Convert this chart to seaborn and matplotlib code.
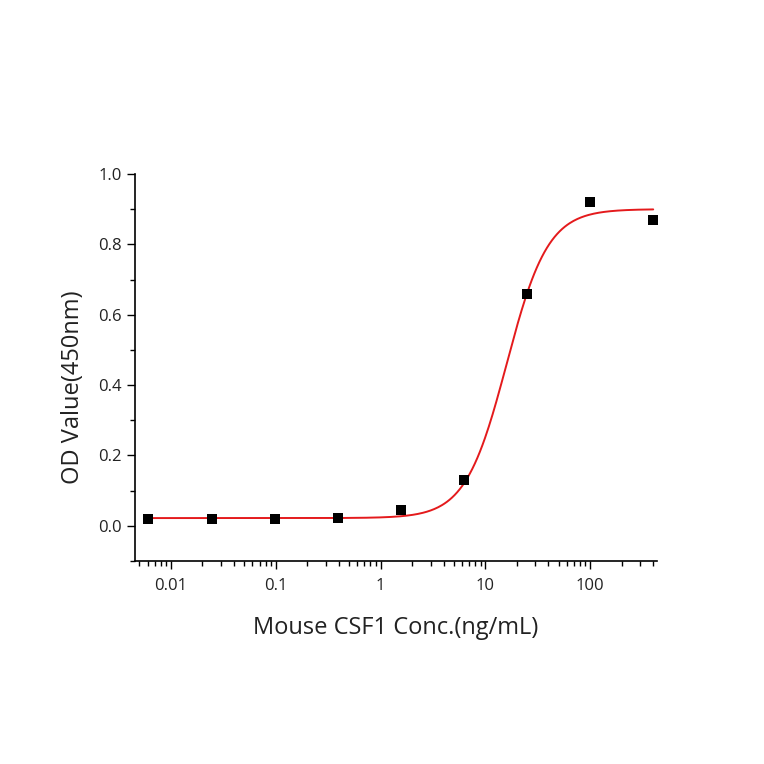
import numpy as np
import pandas as pd
import matplotlib
matplotlib.use("Agg")
import matplotlib.pyplot as plt
import matplotlib.ticker as mticker
import seaborn as sns

# Measured points (ng/mL vs OD450)
conc = [0.0061, 0.0244, 0.0977, 0.39, 1.5625, 6.25, 25, 100, 400]
od = [0.020, 0.018, 0.018, 0.022, 0.044, 0.130, 0.660, 0.920, 0.870]

# 4PL fit parameters
fit_bottom = 0.022
fit_top = 0.900
fit_ec50 = 16.0
fit_hill = 2.2

sns.set_theme(style="ticks")
plt.rcParams['font.family'] = ['Open Sans', 'DejaVu Sans']

df = pd.DataFrame({'conc': conc, 'od': od})
xs = np.logspace(np.log10(min(conc)), np.log10(max(conc)), 400)
curve = pd.DataFrame({
    'conc': xs,
    'od': fit_bottom + (fit_top - fit_bottom) / (1 + (fit_ec50 / xs) ** fit_hill),
})

fig = plt.figure(figsize=(7.64, 7.64), dpi=100)
ax = fig.add_axes([0.1767, 0.2657, 0.6833, 0.5066])

sns.lineplot(data=curve, x='conc', y='od', color='#e41a1c', lw=1.4, ax=ax)
sns.scatterplot(data=df, x='conc', y='od', marker='s', color='black',
                s=42, edgecolor='black', linewidth=0, ax=ax, zorder=3)

ax.set_xscale('log')
ax.set_xlim(0.00454, 435)
ax.set_ylim(-0.1, 1.0)
ax.set_yticks([0.0, 0.2, 0.4, 0.6, 0.8, 1.0])
ax.yaxis.set_minor_locator(mticker.MultipleLocator(0.1))
ax.yaxis.set_major_formatter(mticker.FormatStrFormatter('%.1f'))
ax.xaxis.set_major_locator(mticker.FixedLocator([0.01, 0.1, 1, 10, 100]))
ax.xaxis.set_major_formatter(mticker.FixedFormatter(['0.01', '0.1', '1', '10', '100']))
ax.xaxis.set_minor_locator(mticker.LogLocator(base=10, subs=np.arange(2, 10)))
ax.xaxis.set_minor_formatter(mticker.NullFormatter())

ax.tick_params(axis='both', which='major', direction='out', length=6, width=1,
               labelsize=12, color='black', labelcolor='#222222')
ax.tick_params(axis='x', which='major', pad=6.5)
ax.tick_params(axis='both', which='minor', direction='out', length=3.5, width=1,
               color='black')
for s in ['left', 'bottom']:
    ax.spines[s].set_linewidth(1.2)
    ax.spines[s].set_color('black')
sns.despine(ax=ax)

ax.set_xlabel('Mouse CSF1 Conc.(ng/mL)', fontsize=17, labelpad=15.5, color='#222222')
ax.set_ylabel('OD Value(450nm)', fontsize=17, color='#222222')
ax.yaxis.set_label_coords(-0.095, 0.45)

fig.savefig('out.png', dpi=100, facecolor='white')
